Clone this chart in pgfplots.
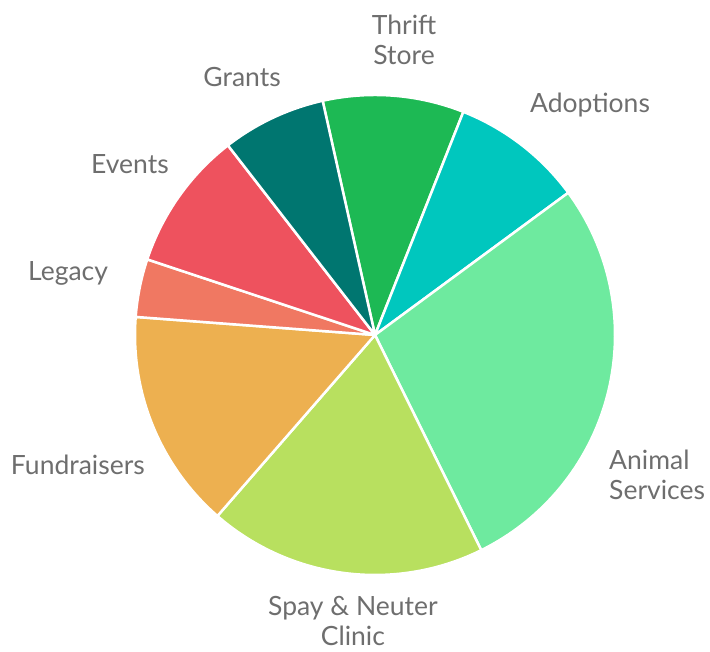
\documentclass[border=0pt]{standalone}
\usepackage{pgfplots}
\usepackage{pgfplotstable}
\pgfplotsset{compat=1.18}
\usepackage{fontspec}
\setmainfont{Lato}
\definecolor{cThrift}{HTML}{1DB954}
\definecolor{cAdopt}{HTML}{00C7BE}
\definecolor{cAnimal}{HTML}{6EEA9F}
\definecolor{cSpay}{HTML}{B8E05F}
\definecolor{cFund}{HTML}{EDB050}
\definecolor{cLegacy}{HTML}{F07862}
\definecolor{cEvents}{HTML}{EE525E}
\definecolor{cGrants}{HTML}{007670}
\definecolor{labelgray}{HTML}{6E6E6E}
% share of each source, percent; slices run clockwise from -12.6 degrees (from top)
\pgfplotstableread{
name value
Thrift 9.5
Adoptions 8.9
Animal 27.8
Spay 18.7
Fundraisers 14.8
Legacy 3.9
Events 9.4
Grants 7.0
}\shares
\pgfplotstablecreatecol[create col/expr accum={\pgfmathaccuma + \thisrow{value}}{0}]{cum}\shares
\def\startangle{-12.6}
\newcommand\slice[2]{% row index, colour
  \pgfplotstablegetelem{#1}{cum}\of\shares\pgfmathsetmacro\b{\startangle+3.6*\pgfplotsretval}%
  \pgfplotstablegetelem{#1}{value}\of\shares\pgfmathsetmacro\a{\b-3.6*\pgfplotsretval}%
  \edef\temp{\noexpand\addplot[fill=#2, draw=white, line width=2.5bp, line join=round, domain=\a:\b, samples=80, variable=\noexpand\t]
    ({sin(\noexpand\t)},{cos(\noexpand\t)}) -- (axis cs:0,0) -- cycle;}%
  \temp
}
\begin{document}
\begin{tikzpicture}
\begin{axis}[
  x=240bp, y=240bp,
  xmin=-1.5625, xmax=1.3958, ymin=-1.3208, ymax=1.3958,
  hide axis, clip=false,
]
\path (axis cs:-1.5625,-1.3208) rectangle (axis cs:1.3958,1.3958);
\slice{0}{cThrift}
\slice{1}{cAdopt}
\slice{2}{cAnimal}
\slice{3}{cSpay}
\slice{4}{cFund}
\slice{5}{cLegacy}
\slice{6}{cEvents}
\slice{7}{cGrants}
\begin{scope}[every node/.style={font=\fontsize{26.5bp}{30bp}\selectfont, text=labelgray, inner sep=0pt}]
\node[align=center] at (axis cs:0.121,1.229) {Thrift\\Store};
\node at (axis cs:0.896,0.958) {Adoptions};
\node[align=left, anchor=west] at (axis cs:0.975,-0.583) {Animal\\Services};
\node[align=center] at (axis cs:-0.092,-1.192) {Spay \& Neuter\\Clinic};
\node at (axis cs:-1.238,-0.542) {Fundraisers};
\node at (axis cs:-1.279,0.258) {Legacy};
\node at (axis cs:-1.021,0.7125) {Events};
\node at (axis cs:-0.554,1.075) {Grants};
\end{scope}
\end{axis}
\end{tikzpicture}
\end{document}
